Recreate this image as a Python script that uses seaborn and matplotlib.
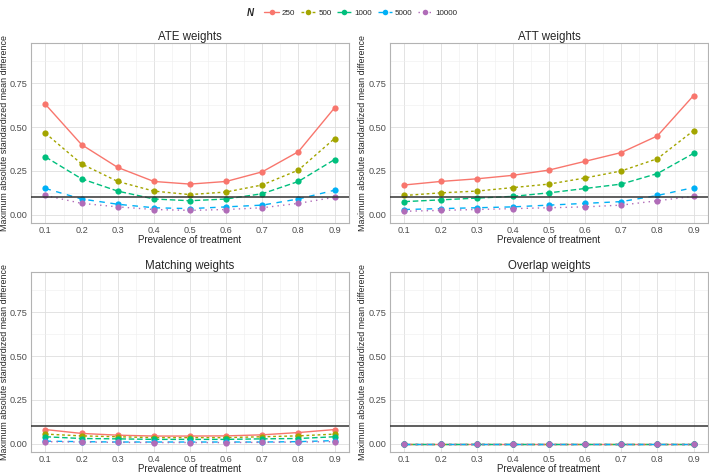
import numpy as np
import pandas as pd
import matplotlib
matplotlib.use("Agg")
import matplotlib.pyplot as plt
import seaborn as sns
from matplotlib.lines import Line2D

# data
prevalence = [0.1, 0.2, 0.3, 0.4, 0.5, 0.6, 0.7, 0.8, 0.9]
sizes = ["250", "500", "1000", "5000", "10000"]
panels = ["ATE weights", "ATT weights", "Matching weights", "Overlap weights"]

ate_250 = [0.63, 0.40, 0.27, 0.19, 0.175, 0.19, 0.245, 0.36, 0.61]
ate_500 = [0.465, 0.29, 0.19, 0.135, 0.115, 0.13, 0.17, 0.255, 0.435]
ate_1000 = [0.33, 0.205, 0.135, 0.09, 0.08, 0.09, 0.12, 0.19, 0.315]
ate_5000 = [0.15, 0.09, 0.06, 0.04, 0.035, 0.045, 0.055, 0.09, 0.14]
ate_10000 = [0.11, 0.065, 0.045, 0.03, 0.025, 0.03, 0.04, 0.065, 0.10]

att_250 = [0.17, 0.19, 0.205, 0.225, 0.255, 0.305, 0.355, 0.45, 0.68]
att_500 = [0.11, 0.125, 0.135, 0.155, 0.175, 0.21, 0.25, 0.32, 0.48]
att_1000 = [0.075, 0.085, 0.095, 0.105, 0.125, 0.15, 0.175, 0.235, 0.35]
att_5000 = [0.03, 0.035, 0.04, 0.045, 0.055, 0.065, 0.075, 0.11, 0.155]
att_10000 = [0.02, 0.025, 0.03, 0.035, 0.04, 0.045, 0.055, 0.08, 0.105]

match_250 = [0.081, 0.059, 0.049, 0.044, 0.044, 0.045, 0.051, 0.064, 0.081]
match_500 = [0.055, 0.045, 0.04, 0.035, 0.035, 0.035, 0.04, 0.045, 0.055]
match_1000 = [0.04, 0.03, 0.028, 0.025, 0.025, 0.025, 0.028, 0.03, 0.04]
match_5000 = [0.015, 0.012, 0.01, 0.01, 0.01, 0.01, 0.01, 0.012, 0.018]
match_10000 = [0.012, 0.01, 0.008, 0.007, 0.007, 0.007, 0.008, 0.01, 0.012]

ow_250 = [0, 0, 0, 0, 0, 0, 0, 0, 0]
ow_500 = [0, 0, 0, 0, 0, 0, 0, 0, 0]
ow_1000 = [0, 0, 0, 0, 0, 0, 0, 0, 0]
ow_5000 = [0, 0, 0, 0, 0, 0, 0, 0, 0]
ow_10000 = [0, 0, 0, 0, 0, 0, 0, 0, 0]

series = {
    "ATE weights": [ate_250, ate_500, ate_1000, ate_5000, ate_10000],
    "ATT weights": [att_250, att_500, att_1000, att_5000, att_10000],
    "Matching weights": [match_250, match_500, match_1000, match_5000, match_10000],
    "Overlap weights": [ow_250, ow_500, ow_1000, ow_5000, ow_10000],
}

rows = []
for p in panels:
    for n, vals in zip(sizes, series[p]):
        for x, v in zip(prevalence, vals):
            rows.append({"panel": p, "N": n, "prev": x, "asmd": v})
df = pd.DataFrame(rows)

colors = ["#F8766D", "#A3A500", "#00BF7D", "#00B0F6", "#B06CB8"]
palette = dict(zip(sizes, colors))
dash_list = ["", (2, 2), (4, 2), (4, 4), (1, 3)]
dashes = dict(zip(sizes, dash_list))

sns.set_theme(style="white")
plt.rcParams["font.family"] = ["Liberation Sans", "DejaVu Sans"]

fig = plt.figure(figsize=(7.09, 4.74), dpi=100)
W, H = 709, 474
boxes = [(31, 43, 349, 223), (390, 43, 708, 223), (31, 272, 349, 452), (390, 272, 708, 452)]
# anchor of the rotated y label, in pixels
ylab_x = [9.5, 367, 9.5, 367]

for p, (x0, y0, x1, y1), lx in zip(panels, boxes, ylab_x):
    ax = fig.add_axes([x0 / W, 1 - y1 / H, (x1 - x0) / W, (y1 - y0) / H])
    sub = df[df["panel"] == p]
    sns.lineplot(data=sub, x="prev", y="asmd", hue="N", style="N",
                 hue_order=sizes, style_order=sizes, palette=palette,
                 dashes=dashes, markers=["o"] * 5, markersize=4.5,
                 markeredgewidth=0, linewidth=1.0, legend=False, ax=ax)
    ax.axhline(0.1, color="#333333", linewidth=1.1, zorder=5)
    ax.set_xlim(0.06, 0.94)
    ax.set_ylim(-0.047, 0.98)
    ax.set_xticks(prevalence)
    ax.set_xticklabels([f"{v:.1f}" for v in prevalence])
    ax.set_xticks(np.arange(0.15, 0.9, 0.1), minor=True)
    ax.set_yticks([0, 0.25, 0.5, 0.75])
    ax.set_yticklabels(["0.00", "0.25", "0.50", "0.75"])
    ax.set_yticks([0.125, 0.375, 0.625, 0.875], minor=True)
    ax.grid(True, which="major", color="#DEDEDE", linewidth=0.6)
    ax.grid(True, which="minor", color="#EEEEEE", linewidth=0.4)
    ax.set_axisbelow(True)
    for s in ax.spines.values():
        s.set_color("#B3B3B3")
        s.set_linewidth(0.8)
    ax.tick_params(axis="both", which="major", labelsize=6.6, colors="#4D4D4D",
                   length=1.5, width=0.6, color="#B3B3B3", pad=1)
    ax.tick_params(axis="both", which="minor", length=0)
    ax.set_title(p, fontsize=8.3, pad=2.5)
    ax.set_xlabel("Prevalence of treatment", fontsize=7, labelpad=-0.5)
    ax.set_ylabel("Maximum absolute standardized mean difference", fontsize=6.4)
    ax.yaxis.set_label_coords((lx - x0) / (x1 - x0), 0.5)

# legend on top
handles = []
for n in sizes:
    h = Line2D([0], [0], color=palette[n], marker="o", markersize=4,
               markeredgewidth=0, linewidth=1.0)
    if dashes[n]:
        h.set_dashes(dashes[n])
    handles.append(h)
fig.legend(handles, sizes, loc="center", bbox_to_anchor=(361 / W, 1 - 13 / H),
           ncol=5, frameon=False, fontsize=5.8, handlelength=1.8,
           columnspacing=0.7, handletextpad=0.35, borderpad=0)
fig.text(250 / W, 1 - 13 / H, "N", fontsize=7, fontweight="bold", style="italic",
         ha="center", va="center")

fig.savefig("out.png", dpi=100)
